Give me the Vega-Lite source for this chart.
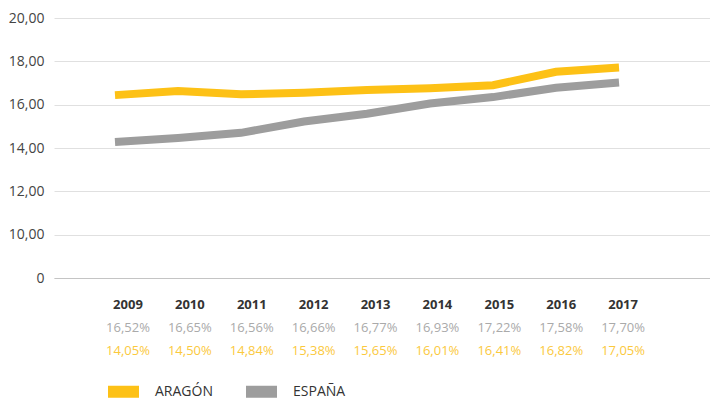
{
  "$schema": "https://vega.github.io/schema/vega-lite/v6.json",
  "padding": {"left": 8, "top": 11, "right": 0, "bottom": 0},
  "background": "white",
  "config": {"view": {"stroke": null}, "font": "Open Sans"},
  "datasets": {
    "lines": [
      {"year": 2009, "serie": "ARAGÓN", "value": 16.44},
      {"year": 2010, "serie": "ARAGÓN", "value": 16.63},
      {"year": 2011, "serie": "ARAGÓN", "value": 16.48},
      {"year": 2012, "serie": "ARAGÓN", "value": 16.55},
      {"year": 2013, "serie": "ARAGÓN", "value": 16.68},
      {"year": 2014, "serie": "ARAGÓN", "value": 16.76},
      {"year": 2015, "serie": "ARAGÓN", "value": 16.9},
      {"year": 2016, "serie": "ARAGÓN", "value": 17.52},
      {"year": 2017, "serie": "ARAGÓN", "value": 17.72},
      {"year": 2009, "serie": "ESPAÑA", "value": 14.28},
      {"year": 2010, "serie": "ESPAÑA", "value": 14.46},
      {"year": 2011, "serie": "ESPAÑA", "value": 14.7},
      {"year": 2012, "serie": "ESPAÑA", "value": 15.22},
      {"year": 2013, "serie": "ESPAÑA", "value": 15.58},
      {"year": 2014, "serie": "ESPAÑA", "value": 16.05},
      {"year": 2015, "serie": "ESPAÑA", "value": 16.35},
      {"year": 2016, "serie": "ESPAÑA", "value": 16.78},
      {"year": 2017, "serie": "ESPAÑA", "value": 17.02}
    ],
    "table": [
      {"year": 2009, "a": "16,52%", "e": "14,05%"},
      {"year": 2010, "a": "16,65%", "e": "14,50%"},
      {"year": 2011, "a": "16,56%", "e": "14,84%"},
      {"year": 2012, "a": "16,66%", "e": "15,38%"},
      {"year": 2013, "a": "16,77%", "e": "15,65%"},
      {"year": 2014, "a": "16,93%", "e": "16,01%"},
      {"year": 2015, "a": "17,22%", "e": "16,41%"},
      {"year": 2016, "a": "17,58%", "e": "16,82%"},
      {"year": 2017, "a": "17,70%", "e": "17,05%"}
    ]
  },
  "resolve": {"scale": {"x": "independent", "y": "independent"}},
  "spacing": 8,
  "vconcat": [
    {
      "width": 657,
      "height": 260,
      "data": {"name": "lines"},
      "mark": {"type": "line", "strokeWidth": 8, "strokeCap": "butt"},
      "encoding": {
        "x": {
          "field": "year", "type": "quantitative",
          "scale": {"domain": [2008.032, 2018.46], "nice": false, "zero": false},
          "axis": {"labels": false, "ticks": false, "grid": false, "domain": true, "domainColor": "#c4c4c4", "title": null}
        },
        "y": {
          "field": "value", "type": "quantitative",
          "scale": {"domain": [8, 20], "nice": false, "zero": false},
          "axis": {
            "title": null, "values": [8, 10, 12, 14, 16, 18, 20],
            "labelExpr": "datum.value == 8 ? '0' : replace(format(datum.value, '.2f'), '.', ',')",
            "ticks": false, "domain": false, "labelPadding": 10,
            "labelFontSize": 14, "labelColor": "#444", "gridColor": "#e0e0e0"
          }
        },
        "color": {
          "field": "serie", "type": "nominal",
          "scale": {"domain": ["ARAGÓN", "ESPAÑA"], "range": ["#fdc116", "#9d9d9d"]},
          "legend": {
            "title": null, "orient": "none", "direction": "horizontal",
            "legendX": 48, "legendY": 352,
            "symbolType": "M-1,0H1", "symbolSize": 961,
            "symbolStrokeWidth": 12, "labelFontSize": 14, "labelColor": "#333",
            "labelOffset": 10, "columnPadding": 9
          }
        }
      }
    },
    {
      "width": 657,
      "height": 69,
      "data": {"name": "table"},
      "encoding": {
        "x": {
          "field": "year", "type": "quantitative",
          "scale": {"domain": [2007.805, 2018.42], "nice": false, "zero": false},
          "axis": null
        }
      },
      "layer": [
        {
          "mark": {"type": "text", "fontWeight": "bold", "fontSize": 13, "color": "#333"},
          "encoding": {
            "y": {"datum": "year", "type": "nominal", "scale": {"domain": ["year", "a", "e"], "type": "band", "paddingInner": 0, "paddingOuter": 0}, "axis": null},
            "text": {"field": "year", "type": "nominal"}
          }
        },
        {
          "mark": {"type": "text", "fontSize": 13, "color": "#aaaaaa"},
          "encoding": {
            "y": {"datum": "a", "type": "nominal"},
            "text": {"field": "a", "type": "nominal"}
          }
        },
        {
          "mark": {"type": "text", "fontSize": 13, "color": "#fbc93d"},
          "encoding": {
            "y": {"datum": "e", "type": "nominal"},
            "text": {"field": "e", "type": "nominal"}
          }
        }
      ]
    }
  ]
}
